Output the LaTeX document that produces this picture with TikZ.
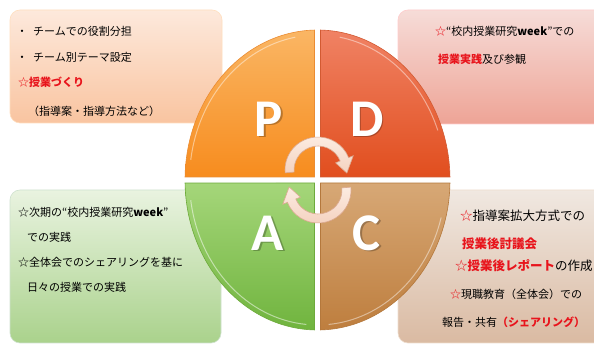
\documentclass[tikz,border=0pt]{standalone}
\usepackage{fontspec}
\usetikzlibrary{calc}
\newfontfamily\jp{Noto Sans CJK JP}
\newfontfamily\letterfont{Carlito}
\definecolor{myred}{HTML}{E8141C}
\begin{document}
\begin{tikzpicture}[x=1pt,y=1pt,
  box/.style={rounded corners=10pt,line width=0.6pt},
  quad/.style={line width=0.6pt},
  big/.style={font=\letterfont\bfseries\fontsize{53}{53}\selectfont,text=white,inner sep=0pt},
  bigshadow/.style={font=\letterfont\bfseries\fontsize{53}{53}\selectfont,text=black,opacity=0.25,inner sep=0pt},
  txt/.style={font=\jp\fontsize{11}{13}\selectfont,anchor=base west,inner sep=0pt},
  txtb/.style={font=\jp\fontsize{12.5}{14}\selectfont,anchor=base west,inner sep=0pt},
  arr/.style={top color={rgb,255:red,252;green,236;blue,226},bottom color={rgb,255:red,244;green,210;blue,192},draw={rgb,255:red,220;green,170;blue,145},line width=0.6pt}
]
\useasboundingbox (0,0) rectangle (594,345);
\clip (0,0) rectangle (594,345);
\fill[white] (0,0) rectangle (594,345);

% background boxes
\path[box,draw=orange!25,top color={rgb,255:red,253;green,233;blue,220},bottom color={rgb,255:red,249;green,196;blue,160}]
  (10,222) rectangle (222,335);
\path[box,draw=red!20,top color={rgb,255:red,246;green,220;blue,216},bottom color={rgb,255:red,238;green,164;blue,150}]
  (398,221) rectangle (620,335);
\path[box,draw=green!25!gray!30,top color={rgb,255:red,233;green,243;blue,224},bottom color={rgb,255:red,170;green,210;blue,140}]
  (10,2) rectangle (221,155);
\path[box,draw=brown!25,top color={rgb,255:red,240;green,232;blue,225},bottom color={rgb,255:red,218;green,186;blue,162}]
  (398,2) rectangle (620,155);

% quadrants, centre (317.5,165), radii 132.5 x 150
\coordinate (ctr) at (317.5,165);
\path[quad,draw={rgb,255:red,235;green,140;blue,50},top color={rgb,255:red,250;green,182;blue,100},bottom color={rgb,255:red,247;green,140;blue,30}]
  (314.5,168) -- ($(ctr)+(91.3:132.5 and 150)$) arc[start angle=91.3,end angle=178.85,x radius=132.5,y radius=150] -- cycle;
\path[quad,draw={rgb,255:red,210;green,90;blue,50},top color={rgb,255:red,240;green,130;blue,100},bottom color={rgb,255:red,225;green,78;blue,30}]
  (320.5,168) -- ($(ctr)+(1.15:132.5 and 150)$) arc[start angle=1.15,end angle=88.7,x radius=132.5,y radius=150] -- cycle;
\path[quad,draw={rgb,255:red,110;green,170;blue,60},top color={rgb,255:red,165;green,214;blue,122},bottom color={rgb,255:red,112;green,180;blue,62}]
  (314.5,162) -- ($(ctr)+(181.15:132.5 and 150)$) arc[start angle=181.15,end angle=268.7,x radius=132.5,y radius=150] -- cycle;
\path[quad,draw={rgb,255:red,180;green,120;blue,60},top color={rgb,255:red,215;green,168;blue,118},bottom color={rgb,255:red,190;green,126;blue,62}]
  (320.5,162) -- ($(ctr)+(271.3:132.5 and 150)$) arc[start angle=271.3,end angle=358.85,x radius=132.5,y radius=150] -- cycle;

% highlight lines
\draw[white,opacity=0.45,line width=1pt] ($(ctr)+(100:128 and 145)$) arc[start angle=100,end angle=172,x radius=128,y radius=145];
\draw[white,opacity=0.45,line width=1pt] ($(ctr)+(80:128 and 145)$) arc[start angle=80,end angle=20,x radius=128,y radius=145];
\draw[white,opacity=0.5,line width=1pt] ($(ctr)+(188:128 and 145)$) arc[start angle=188,end angle=265,x radius=128,y radius=145];
\draw[white,opacity=0.45,line width=1pt] ($(ctr)+(275:128 and 145)$) arc[start angle=275,end angle=345,x radius=128,y radius=145];

% letters
\node[bigshadow] at (270.5,224.5) {P};
\node[big] (P) at (269,226) {P};
\node[bigshadow] at (368.5,224.5) {D};
\node[big] (D) at (367,226) {D};
\node[bigshadow] at (269.5,110.5) {A};
\node[big] (A) at (268,112) {A};
\node[bigshadow] at (368.5,110.5) {C};
\node[big] (C) at (367,112) {C};

% cycle arrows
\coordinate (u) at (318,175);
\coordinate (l) at (318,155);
\path[arr] ($(u)+(185:33)$) arc[start angle=185,end angle=22,radius=33]
  -- ($(u)+(22:38)$) -- ($(u)+(-6:29)$) -- ($(u)+(22:19)$)
  -- ($(u)+(22:24)$) arc[start angle=22,end angle=185,radius=24] -- cycle;
\path[arr] ($(l)+(5:33)$) arc[start angle=5,end angle=-158,radius=33]
  -- ($(l)+(-158:38)$) -- ($(l)+(-186:29)$) -- ($(l)+(-158:19)$)
  -- ($(l)+(-158:24)$) arc[start angle=-158,end angle=5,radius=24] -- cycle;

% texts top-left
\node[txt] (tl0) at (16.5,309) {・};
\node[txt] (tl1) at (33,309) {チームでの役割分担};
\node[txt] (tl2b) at (16.5,283) {・};
\node[txt] (tl2) at (33,283) {チーム別テーマ設定};
\node[txt,text=myred] (tl3) at (18,258) {☆\textbf{授業づくり}};
\node[txt] (tl4) at (28,229) {（指導案・指導方法など）};

% texts top-right
\node[txt] (tr1) at (435,309) {\textcolor{myred}{☆}“校内授業研究\textbf{week}”での};
\node[txt] (tr2) at (438,281) {\textcolor{myred}{\textbf{授業実践}}及び参観};

% texts bottom-left
\node[txt] (bl1) at (18,128) {☆次期の“校内授業研究\textbf{week}”};
\node[txt] (bl2) at (27,103) {での実践};
\node[txt] (bl3) at (18,78) {☆全体会でのシェアリングを基に};
\node[txt] (bl4) at (27,53) {日々の授業での実践};

% texts bottom-right
\node[txtb] (br1) at (460,124) {\textcolor{myred}{☆}指導案拡大方式での};
\node[txtb,text=myred] (br2) at (462,96) {\textbf{授業後討議会}};
\node[txtb] (br3) at (455,74) {\textcolor{myred}{☆\textbf{授業後レポート}}の作成};
\node[txt] (br4) at (450,46) {\textcolor{myred}{☆}現職教育（全体会）での};
\node[txt] (br5) at (442,18) {報告・共有\textcolor{myred}{\textbf{（シェアリング）}}};
\end{tikzpicture}
\end{document}
